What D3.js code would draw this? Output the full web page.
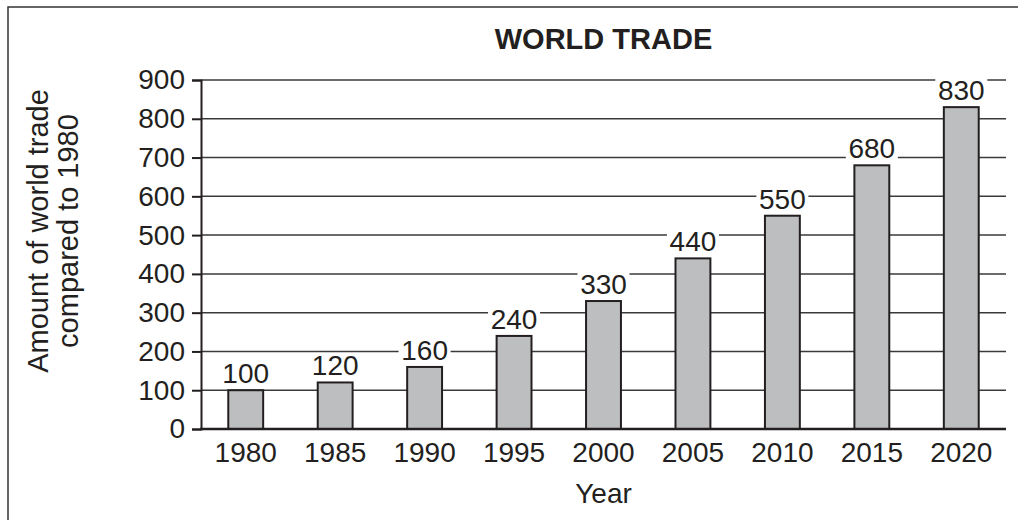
<!DOCTYPE html>
<html>
<head>
<meta charset="utf-8">
<script src="https://cdn.jsdelivr.net/npm/d3@7"></script>
<style>
  body { margin: 0; background: #fff; }
  svg { display: block; font-family: "Liberation Sans", Arial, sans-serif; }
</style>
</head>
<body>
<svg id="chart" width="1018" height="520"></svg>
<script>
var years = ['1980', '1985', '1990', '1995', '2000', '2005', '2010', '2015', '2020'];
var trade = [100, 120, 160, 240, 330, 440, 550, 680, 830];
var yTicks = [0, 100, 200, 300, 400, 500, 600, 700, 800, 900];

var ink = '#231f20';
var svg = d3.select('#chart');

// frame (runs off the right and bottom edge)
svg.append('rect')
  .attr('x', 8).attr('y', 7)
  .attr('width', 1030).attr('height', 530)
  .attr('fill', 'none')
  .attr('stroke', '#333')
  .attr('stroke-width', 1.5);

var plotLeft = 201, plotRight = 1006, plotTop = 80, plotBottom = 429;

var x = d3.scaleBand()
  .domain(years)
  .range([plotLeft, plotRight])
  .paddingInner(0.61)
  .paddingOuter(0.305);

var y = d3.scaleLinear()
  .domain([0, 900])
  .range([plotBottom, plotTop]);

// gridlines
svg.append('g')
  .selectAll('line')
  .data(yTicks.filter(function(d) { return d > 0; }))
  .join('line')
  .attr('x1', plotLeft).attr('x2', plotRight)
  .attr('y1', function(d) { return y(d); })
  .attr('y2', function(d) { return y(d); })
  .attr('stroke', '#3a3a3a')
  .attr('stroke-width', 1.5);

// y axis
var yAxis = svg.append('g')
  .attr('transform', 'translate(' + plotLeft + ',0)')
  .call(d3.axisLeft(y).tickValues(yTicks).tickSize(9).tickPadding(7));
yAxis.select('.domain').attr('stroke', ink).attr('stroke-width', 2);
yAxis.selectAll('.tick line').attr('stroke', ink).attr('stroke-width', 2);
yAxis.selectAll('.tick text')
  .attr('fill', ink)
  .style('font-size', '28px')
  .style('font-family', '"Liberation Sans", Arial, sans-serif');

// bars
svg.append('g')
  .selectAll('rect')
  .data(trade)
  .join('rect')
  .attr('x', function(d, i) { return x(years[i]); })
  .attr('y', function(d) { return y(d); })
  .attr('width', x.bandwidth())
  .attr('height', function(d) { return y(0) - y(d); })
  .attr('fill', '#bdbec0')
  .attr('stroke', ink)
  .attr('stroke-width', 2);

// x axis baseline
svg.append('line')
  .attr('x1', plotLeft - 1).attr('x2', plotRight)
  .attr('y1', y(0)).attr('y2', y(0))
  .attr('stroke', ink)
  .attr('stroke-width', 2.5);

// x tick labels
svg.append('g')
  .selectAll('text')
  .data(years)
  .join('text')
  .attr('x', function(d) { return x(d) + x.bandwidth() / 2; })
  .attr('y', 462)
  .attr('text-anchor', 'middle')
  .attr('fill', ink)
  .style('font-size', '28px')
  .text(function(d) { return d; });

// value labels with white knockout behind them
var labels = svg.append('g')
  .selectAll('g')
  .data(trade)
  .join('g')
  .attr('transform', function(d, i) {
    return 'translate(' + (x(years[i]) + x.bandwidth() / 2) + ',' + (y(d) - 7) + ')';
  });
labels.append('rect')
  .attr('x', -26).attr('y', -22)
  .attr('width', 52).attr('height', 24)
  .attr('fill', '#fff');
labels.append('text')
  .attr('text-anchor', 'middle')
  .attr('fill', ink)
  .style('font-size', '28px')
  .text(function(d) { return d; });

// title
svg.append('text')
  .attr('x', (plotLeft + plotRight) / 2)
  .attr('y', 49)
  .attr('text-anchor', 'middle')
  .attr('fill', ink)
  .style('font-size', '29px')
  .style('font-weight', 'bold')
  .text('WORLD TRADE');

// x axis title
svg.append('text')
  .attr('x', (plotLeft + plotRight) / 2)
  .attr('y', 503)
  .attr('text-anchor', 'middle')
  .attr('fill', ink)
  .style('font-size', '28px')
  .text('Year');

// y axis title, two lines
var yTitle = svg.append('text')
  .attr('transform', 'translate(48,231) rotate(-90)')
  .attr('text-anchor', 'middle')
  .attr('fill', ink)
  .style('font-size', '29px');
yTitle.append('tspan').attr('x', 0).attr('dy', 0).text('Amount of world trade');
yTitle.append('tspan').attr('x', 0).attr('dy', 30).text('compared to 1980');
</script>
</body>
</html>
